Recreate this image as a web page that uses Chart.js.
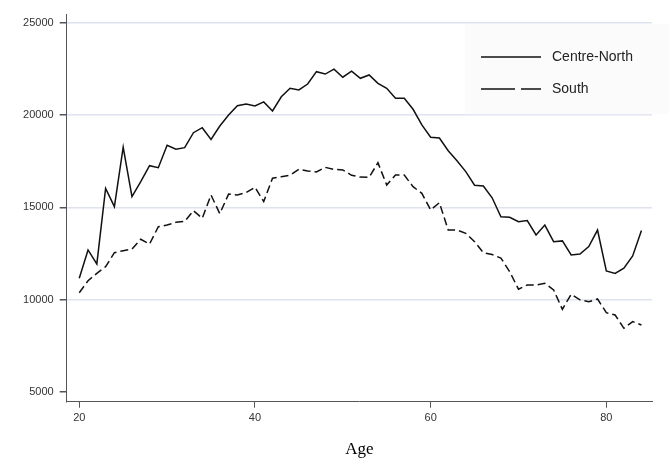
<!DOCTYPE html>
<html>
<head>
<meta charset="utf-8">
<script src="https://cdn.jsdelivr.net/npm/chart.js@4"></script>
<style>
  html, body { margin: 0; padding: 0; background: #fff; }
  canvas { display: block; }
</style>
</head>
<body>
<canvas id="chart" width="669" height="463"></canvas>
<script>
// ages 20..84
const ages = [20,21,22,23,24,25,26,27,28,29,30,31,32,33,34,35,36,37,38,39,40,41,42,43,44,45,46,47,48,49,50,51,52,53,54,55,56,57,58,59,60,61,62,63,64,65,66,67,68,69,70,71,72,73,74,75,76,77,78,79,80,81,82,83,84];

const centreNorth = [11150,12690,11930,16030,15040,18260,15580,16390,17260,17150,18370,18150,18240,19050,19320,18680,19410,20010,20510,20610,20500,20720,20230,21000,21460,21370,21690,22360,22230,22500,22060,22390,22000,22180,21730,21460,20920,20920,20320,19470,18800,18760,18070,17530,16940,16200,16160,15520,14490,14460,14220,14280,13500,14040,13140,13180,12420,12470,12870,13770,11550,11420,11700,12360,13740];

const south = [10370,11020,11420,11780,12540,12650,12730,13270,13010,13950,14040,14190,14240,14820,14410,15670,14660,15720,15670,15800,16090,15310,16580,16660,16750,17060,16970,16920,17170,17060,17030,16740,16640,16630,17420,16210,16750,16750,16120,15760,14860,15250,13770,13770,13590,13140,12540,12440,12250,11510,10560,10790,10790,10880,10520,9470,10290,9980,9880,10030,9290,9160,8440,8800,8620];

const seriesNames = ["Centre-North", "South"];
const xTicks = [20, 40, 60, 80];
const yTicks = [5000, 10000, 15000, 20000, 25000];

const axisColor = "#555";
const gridColor = "#dfe2ef";
const tickFont = { family: "Liberation Sans", size: 11 };

// legend drawn inside the plot, top right, on a faint box
const insideLegend = {
  id: "insideLegend",
  afterDraw(c) {
    const ctx = c.ctx;
    const yTop = c.scales.y.getPixelForValue(25000);
    const yBot = c.scales.y.getPixelForValue(20000);
    ctx.save();
    ctx.fillStyle = "#fbfbfb";
    ctx.fillRect(465, yTop + 1, 669 - 465, yBot - yTop - 2);
    const rowY = [57, 89];
    c.data.datasets.forEach((ds, i) => {
      ctx.strokeStyle = "#111";
      ctx.lineWidth = 1.3;
      ctx.setLineDash(i === 0 ? [] : [34, 6]);
      ctx.beginPath();
      ctx.moveTo(481, rowY[i]);
      ctx.lineTo(541, rowY[i]);
      ctx.stroke();
      ctx.setLineDash([]);
      ctx.fillStyle = "#222";
      ctx.font = "14px 'Liberation Sans'";
      ctx.textBaseline = "middle";
      ctx.textAlign = "left";
      ctx.fillText(ds.label, 552, rowY[i]);
    });
    ctx.restore();
  }
};

new Chart(document.getElementById("chart"), {
  type: "line",
  data: {
    datasets: [
      {
        label: seriesNames[0],
        data: ages.map((a, i) => ({ x: a, y: centreNorth[i] })),
        borderColor: "#111",
        borderWidth: 1.5,
        pointRadius: 0,
        tension: 0,
        fill: false
      },
      {
        label: seriesNames[1],
        data: ages.map((a, i) => ({ x: a, y: south[i] })),
        borderColor: "#111",
        borderWidth: 1.5,
        borderDash: [8, 4],
        pointRadius: 0,
        tension: 0,
        fill: false
      }
    ]
  },
  options: {
    responsive: false,
    animation: false,
    layout: { padding: { top: 14, right: 17, left: 0, bottom: 0 } },
    plugins: {
      legend: { display: false },
      tooltip: { enabled: false }
    },
    scales: {
      x: {
        type: "linear",
        min: 18.57,
        max: 85.2,
        afterBuildTicks: s => { s.ticks = xTicks.map(v => ({ value: v })); },
        afterFit: s => { s.height = 61.3; },
        border: { color: axisColor, width: 1 },
        grid: { drawOnChartArea: false, drawTicks: true, tickLength: 6, tickColor: axisColor },
        ticks: { color: "#333", font: tickFont, padding: 4, maxRotation: 0, callback: v => String(v) },
        title: {
          display: true,
          text: "Age",
          color: "#000",
          font: { family: "Liberation Serif", size: 17 },
          padding: { top: 0, bottom: 3 }
        }
      },
      y: {
        min: 4458,
        max: 25488,
        afterBuildTicks: s => { s.ticks = yTicks.map(v => ({ value: v })); },
        afterFit: s => { s.width = 66.7; },
        border: { color: axisColor, width: 1 },
        grid: {
          color: ctx => (ctx.tick && ctx.tick.value === 5000 ? "rgba(0,0,0,0)" : gridColor),
          lineWidth: 1.5,
          tickLength: 7,
          tickColor: axisColor
        },
        ticks: { color: "#333", font: tickFont, padding: 6, callback: v => String(v) }
      }
    }
  },
  plugins: [insideLegend]
});
</script>
</body>
</html>
